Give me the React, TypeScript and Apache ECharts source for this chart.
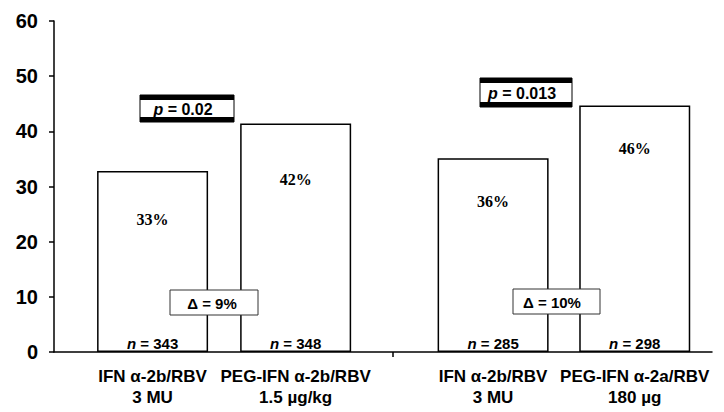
import React, { useEffect, useRef } from "react";
import * as echarts from "echarts";

// ---- data ----
const categories = [
  "IFN α-2b/RBV\n3 MU",
  "PEG-IFN α-2b/RBV\n1.5 µg/kg",
  "IFN α-2b/RBV\n3 MU",
  "PEG-IFN α-2a/RBV\n180 µg",
];
const barValues = [32.8, 41.4, 35.1, 44.7];
const pctLabels = ["33%", "42%", "36%", "46%"];
const nValues = [343, 348, 285, 298];
const pValues = ["0.02", "0.013"];
const deltaLabels = ["9%", "10%"];
const yTicks = [0, 10, 20, 30, 40, 50, 60];

// ---- layout (not data) ----
const barX = [1, 2, 3.38, 4.37];
const pctLabelY = [24.1, 31.2, 27.2, 36.8];
const FONT = "'Liberation Sans', Arial, sans-serif";

export default function App() {
  const ref = useRef<HTMLDivElement>(null);
  useEffect(() => {
    if (!ref.current) return;
    const chart = echarts.init(ref.current, null, { renderer: "svg" });
    const Z = 100;
    const pBox = (x: number, y: number, w: number, h: number, t: string, tx: number, ty: number) => [
      { type: "rect", z: Z, shape: { x, y, width: w, height: h }, style: { fill: "#fff", stroke: "#000", lineWidth: 1 } },
      { type: "rect", z: Z + 1, shape: { x, y, width: w, height: 5 }, style: { fill: "#000" } },
      { type: "rect", z: Z + 1, shape: { x, y: y + h - 5, width: w, height: 5 }, style: { fill: "#000" } },
      {
        type: "text",
        z: Z + 2,
        x: tx,
        y: ty,
        style: {
          text: "{i|p} = " + t,
          fill: "#000",
          font: "bold 16px " + FONT,
          align: "center",
          verticalAlign: "middle",
          rich: { i: { fontStyle: "italic", fontWeight: "bold", fontSize: 16, fontFamily: FONT } },
        },
      },
    ];
    const dBox = (x: number, y: number, w: number, h: number, t: string, tx: number, ty: number) => [
      { type: "rect", z: Z, shape: { x, y, width: w, height: h }, style: { fill: "#fff", stroke: "#333", lineWidth: 1 } },
      {
        type: "text",
        z: Z + 2,
        x: tx,
        y: ty,
        style: {
          text: "Δ = " + t,
          fill: "#000",
          font: "bold 15px " + FONT,
          align: "center",
          verticalAlign: "middle",
        },
      },
    ];
    chart.setOption({
      animation: false,
      grid: { left: 54, right: 12, top: 21, bottom: 60, containLabel: false },
      xAxis: {
        type: "value",
        min: 0.311,
        max: 4.91,
        splitLine: { show: false },
        axisLine: { show: true, onZero: true, lineStyle: { color: "#000", width: 1.5 } },
        axisTick: { show: true, customValues: [2.68], length: 5, lineStyle: { color: "#000", width: 1.5 } },
        axisLabel: {
          customValues: barX,
          formatter: (v: number) => {
            const i = barX.findIndex((b) => Math.abs(b - v) < 0.01);
            return i >= 0 ? categories[i] : "";
          },
          color: "#000",
          fontFamily: FONT,
          fontWeight: "bold",
          fontSize: 17,
          lineHeight: 21,
          margin: 14,
        },
      },
      yAxis: {
        type: "value",
        min: 0,
        max: 60,
        interval: 10,
        splitLine: { show: false },
        axisLine: { show: true, lineStyle: { color: "#000", width: 1.5 } },
        axisTick: { show: true, length: 5, lineStyle: { color: "#000", width: 1.5 } },
        axisLabel: {
          color: "#000",
          fontFamily: FONT,
          fontWeight: "bold",
          fontSize: 20,
          margin: 16,
          formatter: (v: number) => (yTicks.includes(v) ? String(v) : ""),
        },
      },
      series: [
        {
          type: "bar",
          data: barValues.map((v, i) => [barX[i], v]),
          barWidth: 111,
          itemStyle: { color: "#fff", borderColor: "#000", borderWidth: 1.5 },
          label: {
            show: true,
            position: "insideBottom",
            distance: 1,
            formatter: (p: any) => "{i|n} = " + nValues[p.dataIndex],
            color: "#000",
            fontFamily: FONT,
            fontWeight: "bold",
            fontSize: 15,
            rich: { i: { fontStyle: "italic", fontWeight: "bold", fontSize: 15, fontFamily: FONT, color: "#000" } },
          },
        },
        {
          type: "scatter",
          z: 5,
          data: pctLabelY.map((y, i) => [barX[i], y]),
          symbolSize: 1,
          itemStyle: { color: "rgba(255,255,255,0)" },
          label: {
            show: true,
            position: "inside",
            formatter: (p: any) => pctLabels[p.dataIndex],
            color: "#000",
            textBorderWidth: 0,
            opacity: 1,
            fontFamily: "'Liberation Serif', 'Times New Roman', serif",
            fontWeight: "bold",
            fontSize: 16,
          },
        },
      ],
      graphic: [
        ...pBox(140, 95, 94, 27, pValues[0], 183, 109),
        ...pBox(480, 78, 92, 29, pValues[1], 522, 93),
        ...dBox(170, 290, 88, 25, deltaLabels[0], 212, 303),
        ...dBox(513, 289, 87, 25, deltaLabels[1], 552, 302),
      ],
    });
    return () => chart.dispose();
  }, []);
  return (
    <div
      ref={ref}
      style={{ position: "fixed", left: 0, top: 0, width: 724, height: 412, background: "#fff" }}
    />
  );
}
